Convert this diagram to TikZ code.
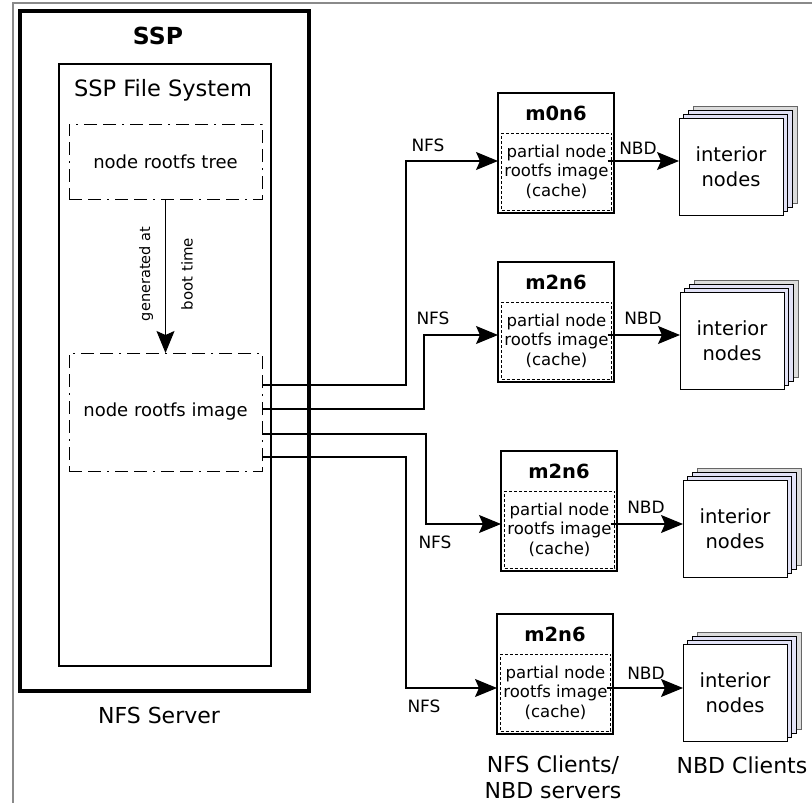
\documentclass[tikz,border=0pt]{standalone}
\usepackage{fontspec}
\setmainfont{DejaVu Sans}
\usetikzlibrary{arrows.meta,shadows}
\definecolor{layerblue}{HTML}{E2E2F6}
\definecolor{layergray}{HTML}{DCDCDC}
\definecolor{framegray}{HTML}{8A8A8A}
\newcommand{\fsz}[2]{\fontsize{#1}{#2}\selectfont}
\begin{document}
\begin{tikzpicture}[x=1pt,y=-1pt,
  every node/.style={inner sep=0pt, outer sep=0pt},
  sspbox/.style={draw, line width=4pt, minimum width=289pt, minimum height=680pt},
  fsbox/.style={draw, line width=1.5pt, minimum width=212pt, minimum height=602pt},
  dashdotbox/.style={draw, line width=1pt,
    dash pattern=on 13pt off 6pt on 13pt off 6pt on 2pt off 6pt,
    minimum width=193pt, font=\fsz{18}{22}},
  client/.style={draw, line width=2.4pt, minimum width=116pt, minimum height=120pt},
  cache/.style={draw, line width=0.9pt, dash pattern=on 3pt off 2pt,
    minimum width=110pt, minimum height=77pt, align=center, font=\fsz{16.5}{19.5}},
  hostname/.style={anchor=base, font=\fsz{19.5}{23}\bfseries},
  stackbox/.style={draw, fill=white, line width=1pt, minimum width=104pt,
    minimum height=97pt, align=center, font=\fsz{19.5}{25},
    copy shadow={shadow xshift=14pt, shadow yshift=12pt, fill=layergray,
      draw=black!60, line width=1pt},
    copy shadow={shadow xshift=9.4pt, shadow yshift=8pt, fill=layerblue,
      draw=black, line width=1pt},
    copy shadow={shadow xshift=4.7pt, shadow yshift=4pt, fill=layerblue,
      draw=black, line width=1pt}},
  link/.style={line width=1.2pt},
  arr/.style={link, -{Stealth[length=22pt, width=18pt, inset=4pt]}},
  lbl/.style={anchor=base, font=\fsz{17}{20}},
  caption/.style={anchor=base, font=\fsz{22}{26}}]

\useasboundingbox (0,0) rectangle (812,803);

% outer frame
\draw[framegray, line width=1.5pt] (13,803) -- (13,3) -- (812,3);

% NFS server side
\node[sspbox] (ssp) at (164.5,351) {};
\node[anchor=base, font=\fsz{23.5}{28}\bfseries] (ssptitle) at (158,45) {SSP};
\node[fsbox] (fs) at (165,365) {};
\node[anchor=base, font=\fsz{22.5}{27}] (fstitle) at (163,96) {SSP File System};
\node[dashdotbox, minimum height=75pt] (tree) at (165.5,161.5) {node rootfs tree};
\node[dashdotbox, minimum height=118pt] (img) at (165.5,412) {node rootfs image};
\draw[arr, line width=1pt] (tree.south) -- (img.north);
\node[rotate=90, font=\fsz{14.5}{17}] (gen) at (146,274) {generated at};
\node[rotate=90, font=\fsz{15}{18}] (boot) at (187,274) {boot time};
\node[caption] (srvcap) at (159,723) {NFS Server};

% NFS clients / NBD servers
\node[client] (cl1) at (556,153) {};
\node[client] (cl2) at (556,322) {};
\node[client] (cl3) at (559,511) {};
\node[client] (cl4) at (555,674) {};
\node[hostname] (h1) at (556,120) {m0n6};
\node[hostname] (h2) at (556,289) {m2n6};
\node[hostname] (h3) at (559,478) {m2n6};
\node[hostname] (h4) at (555,641) {m2n6};
\foreach \i in {1,...,4}
  \node[cache, anchor=south] (c\i) at ([xshift=0.5pt, yshift=3pt]cl\i.south)
    {partial node\\rootfs image\\(cache)};

% NBD clients
\node[stackbox] (n1) at (731,166.5) {interior\\nodes};
\node[stackbox] (n2) at (732,340.5) {interior\\nodes};
\node[stackbox] (n3) at (735,529) {interior\\nodes};
\node[stackbox] (n4) at (735,692.5) {interior\\nodes};

% NFS links from the rootfs image
\draw[arr] (img.east |- 0,385) -| (406,161) -- (cl1.west |- 0,161);
\draw[arr] (img.east |- 0,409) -| (424,335) -- (cl2.west |- 0,335);
\draw[arr] (img.east |- 0,434) -| (426,524) -- (cl3.west |- 0,524);
\draw[arr] (img.east |- 0,457) -| (406,688) -- (cl4.west |- 0,688);
\node[lbl] (nfs1) at (428,151) {NFS};
\node[lbl] (nfs2) at (433,324) {NFS};
\node[lbl] (nfs3) at (435,548) {NFS};
\node[lbl] (nfs4) at (424,712) {NFS};

% NBD links to the interior nodes
\draw[arr] ([xshift=-4pt]c1.east |- 0,161) -- (n1.west |- 0,161);
\draw[arr] ([xshift=-4pt]c2.east |- 0,335) -- (n2.west |- 0,335);
\draw[arr] ([xshift=-4pt]c3.east |- 0,524) -- (n3.west |- 0,524);
\draw[arr] ([xshift=-4pt]c4.east |- 0,688) -- (n4.west |- 0,688);
\node[lbl] (nbd1) at (638,154) {NBD};
\node[lbl] (nbd2) at (643,324) {NBD};
\node[lbl] (nbd3) at (646,513) {NBD};
\node[lbl] (nbd4) at (646,679) {NBD};

% captions
\node[caption] (cap1) at (553,772) {NFS Clients/};
\node[caption] (cap2) at (553,798) {NBD servers};
\node[caption] (cap3) at (742,773) {NBD Clients};
\end{tikzpicture}
\end{document}
